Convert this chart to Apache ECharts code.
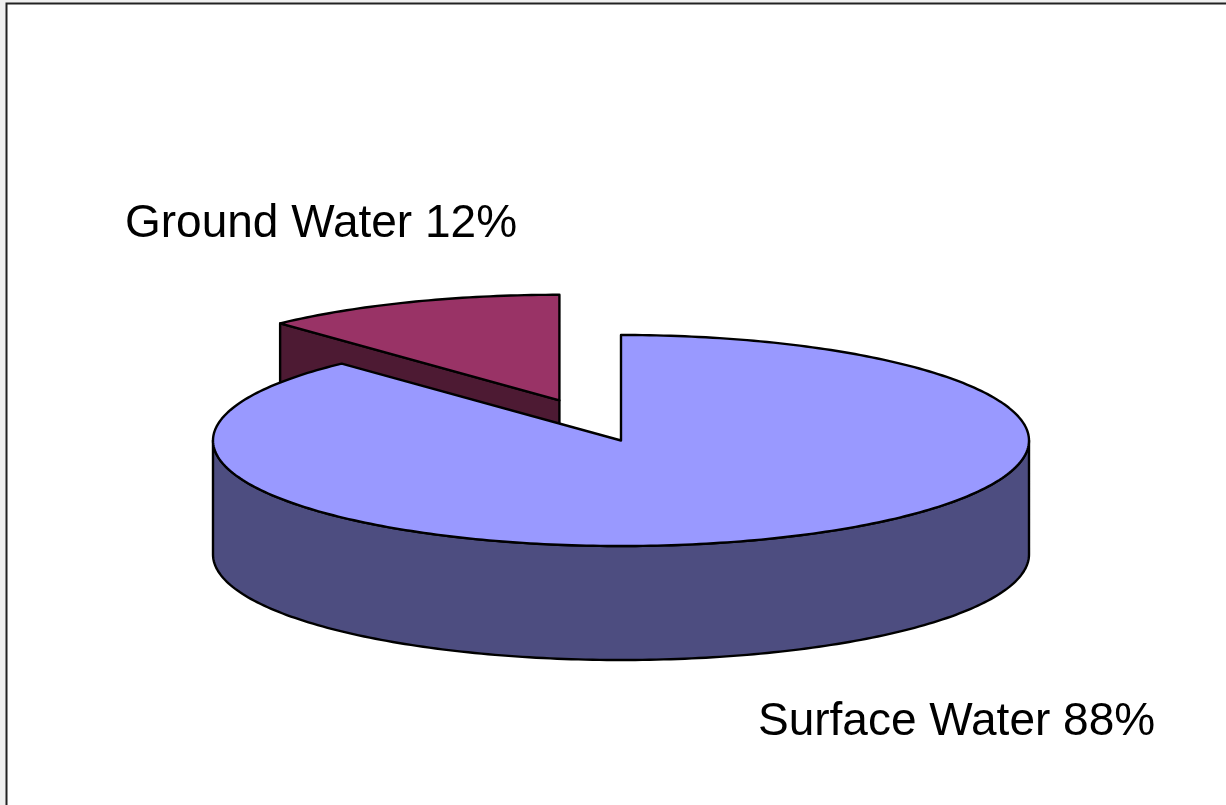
<!DOCTYPE html>
<html>
<head>
<meta charset="utf-8">
<style>html,body{margin:0;padding:0;background:#f0f0f0;overflow:hidden}#c{width:1226px;height:805px}</style>
<script src="https://cdn.jsdelivr.net/npm/echarts@6/dist/echarts.min.js"></script>
</head>
<body>
<div id="c"></div>
<script>
var categories = ['Ground Water', 'Surface Water'];
var values = [12, 88];
var topColors = ['#993366', '#9999FF'];
var sideColors = ['#4D1A33', '#4D4D80'];
var explode = [0.41, 0];
var labelPos = [[125, 247], [758, 745]];

var CX = 621, CY = 440.5, RX = 408, RY = 105.5, DEPTH = 114, STROKE = '#000', LW = 2.4;
var total = values.reduce(function (a, b) { return a + b; }, 0);
var startDeg = -values[0] / total * 360;

function pt(cx, cy, deg, dy) {
  var r = deg * Math.PI / 180;
  return [cx + RX * Math.sin(r), cy - RY * Math.cos(r) + (dy || 0)];
}
function arc(cx, cy, a0, a1, dy) {
  var n = Math.max(2, Math.ceil(Math.abs(a1 - a0))), out = [];
  for (var i = 0; i <= n; i++) out.push(pt(cx, cy, a0 + (a1 - a0) * i / n, dy));
  return out;
}
function poly(points, fill) {
  return { type: 'polygon', shape: { points: points }, style: { fill: fill, stroke: STROKE, lineWidth: LW, lineJoin: 'round' } };
}

function renderItem(params, api) {
  var i = params.dataIndex, v = api.value(0), a0 = startDeg;
  for (var k = 0; k < i; k++) a0 += values[k] / total * 360;
  var a1 = a0 + v / total * 360, mid = (a0 + a1) / 2;
  var off = pt(0, 0, mid);
  var cx = CX + off[0] * explode[i], cy = CY + off[1] * explode[i];
  var children = [];
  if (explode[i] > 0) {
    var p0 = pt(cx, cy, a0);
    children.push(poly([p0, [cx, cy], [cx, cy + DEPTH], [p0[0], p0[1] + DEPTH]], sideColors[i]));
  }
  var fa0 = Math.max(a0, 90), fa1 = Math.min(a1, 270);
  if (fa1 > fa0) {
    children.push(poly(arc(cx, cy, fa0, fa1, 0).concat(arc(cx, cy, fa1, fa0, DEPTH)), sideColors[i]));
  }
  children.push(poly(arc(cx, cy, a0, a1, 0).concat([[cx, cy]]), topColors[i]));
  return { type: 'group', children: children };
}

var chart = echarts.init(document.getElementById('c'), null, { renderer: 'canvas' });
chart.setOption({
  animation: false,
  backgroundColor: 'transparent',
  graphic: [
    { type: 'rect', z: -10, shape: { x: 6.5, y: 3.5, width: 1300, height: 900 }, style: { fill: '#fff', stroke: '#222', lineWidth: 2 } }
  ].concat(categories.map(function (c, i) {
    return {
      type: 'text', z: 10, x: labelPos[i][0], y: labelPos[i][1],
      style: { text: c + ' ' + values[i] + '%', font: '46px "Liberation Sans", Arial, sans-serif', fill: '#000', verticalAlign: 'bottom' }
    };
  })),
  series: [{
    type: 'custom',
    coordinateSystem: 'none',
    renderItem: renderItem,
    encode: { value: 0 },
    silent: true,
    data: values.map(function (v, i) { return { name: categories[i], value: [v] }; })
  }]
});
</script>
</body>
</html>
